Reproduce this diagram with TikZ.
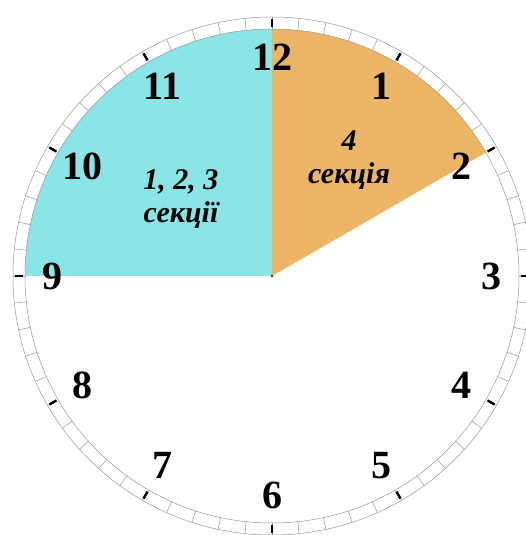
\documentclass[tikz,border=0pt]{standalone}
\usepackage{fontspec}
\setmainfont{Liberation Serif}
\usepackage{tikz}
\usetikzlibrary{positioning}
\usepackage{xcolor}
\definecolor{sectcyan}{RGB}{138,230,230}
\definecolor{sectorange}{RGB}{236,181,101}
\definecolor{ringgray}{RGB}{150,150,150}

\begin{document}
\begin{tikzpicture}[
    x=1pt, y=1pt,
    numeral/.style={inner sep=0pt, font=\bfseries\fontsize{40}{40}\selectfont},
    section/.style={align=center, inner sep=0pt,
                    font=\bfseries\itshape\fontsize{30}{33}\selectfont},
    minute/.style={draw=ringgray, line width=0.5pt},
    hourtick/.style={draw=black, line width=2.4pt},
]
\useasboundingbox (-272,-259) rectangle (254,276);
\clip (-272,-259) rectangle (254,276);

% coloured sectors
\fill[sectcyan] (0,0) -- (90:247) arc[start angle=90, end angle=180, radius=247] -- cycle;
\fill[sectorange] (0,0) -- (30:247) arc[start angle=30, end angle=90, radius=247] -- cycle;
\fill[black!80] (0,0) circle (1.3);

% dial ring
\draw[minute] (0,0) circle (247);
\draw[minute] (0,0) circle (259);
\foreach \m in {0,...,59}
  \draw[minute] (6*\m:247) -- (6*\m:259);
\foreach \h in {0,...,11}
  \draw[hourtick] (30*\h:249) -- (30*\h:257);

% numerals
\foreach \h in {1,...,12}
  \node[numeral] (n\h) at ({90-30*\h}:219) {\h};

% labels
\node[section] (secA) at (-91,77) {1, 2, 3\\секції};
\node[section] (secB) at (77,116) {4\\секція};
\end{tikzpicture}
\end{document}
